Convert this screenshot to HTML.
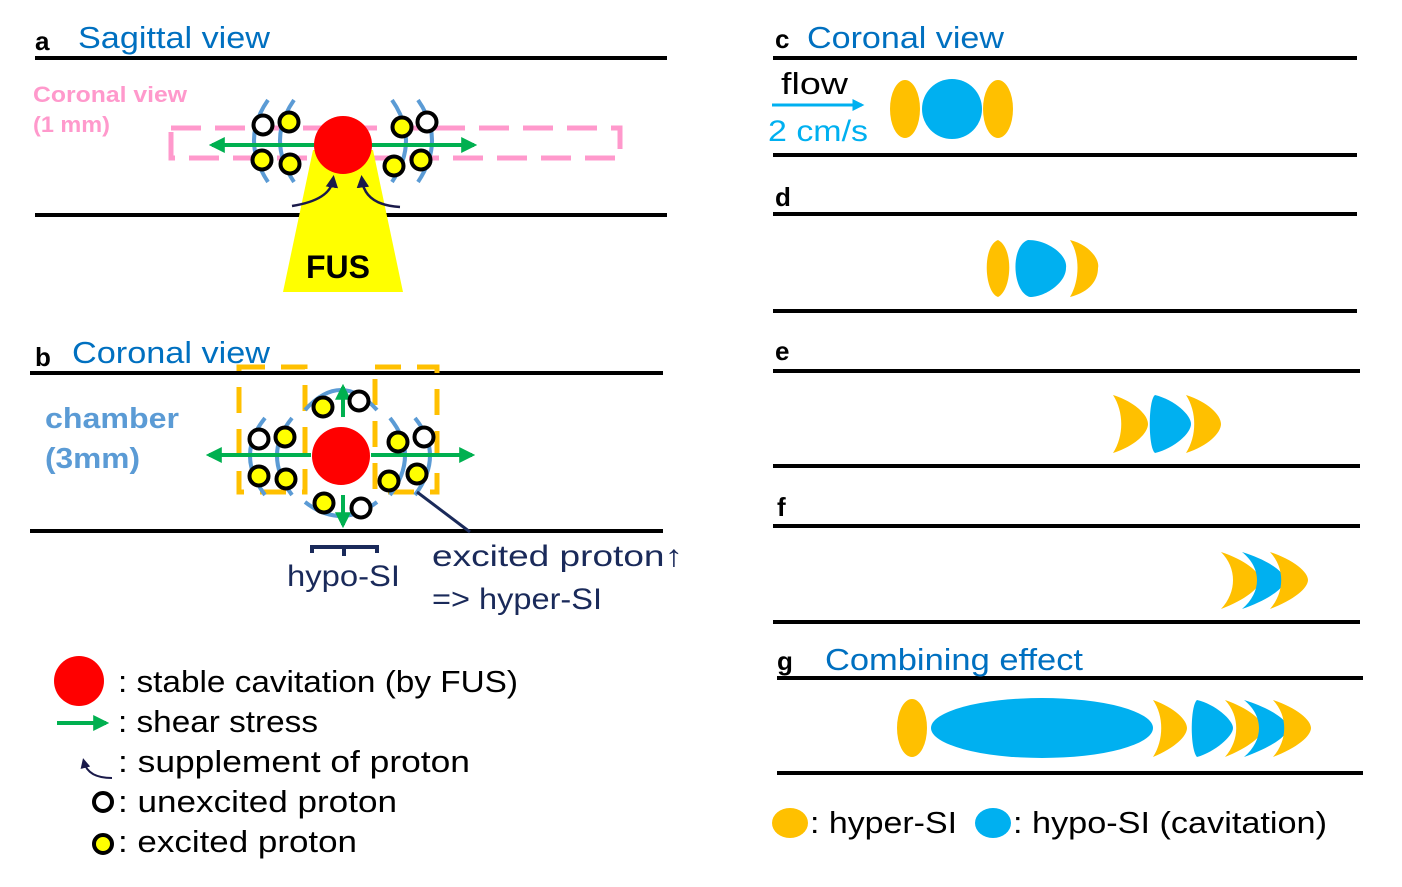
<!DOCTYPE html>
<html><head><meta charset="utf-8"><style>
html,body{margin:0;padding:0;background:#fff;}
svg{display:block;font-family:"Liberation Sans",sans-serif;}
</style></head><body>
<svg width="1402" height="887" viewBox="0 0 1402 887" xmlns="http://www.w3.org/2000/svg">
<defs>
<marker id="ga" viewBox="0 0 10 10" refX="8" refY="5" markerWidth="4" markerHeight="4" orient="auto"><path d="M0,0 L10,5 L0,10 z" fill="#00b050"/></marker>
<marker id="ba" viewBox="0 0 10 10" refX="8" refY="5" markerWidth="4" markerHeight="4" orient="auto"><path d="M0,0 L10,5 L0,10 z" fill="#00b0f0"/></marker>
<marker id="na" viewBox="0 0 10 10" refX="6" refY="5" markerWidth="5" markerHeight="5" orient="auto"><path d="M0,0 L10,5 L0,10 z" fill="#1a1a4a"/></marker>
</defs>
<g stroke="#000" stroke-width="4">
<line x1="35" y1="58" x2="667" y2="58"/><line x1="35" y1="215" x2="667" y2="215"/>
<line x1="30" y1="373" x2="663" y2="373"/><line x1="30" y1="531" x2="663" y2="531"/>
<line x1="773" y1="58" x2="1357" y2="58"/><line x1="773" y1="155" x2="1357" y2="155"/>
<line x1="773" y1="214" x2="1357" y2="214"/><line x1="773" y1="311" x2="1357" y2="311"/>
<line x1="773" y1="371" x2="1360" y2="371"/><line x1="773" y1="466" x2="1360" y2="466"/>
<line x1="773" y1="526" x2="1360" y2="526"/><line x1="773" y1="622" x2="1360" y2="622"/>
<line x1="777" y1="678" x2="1363" y2="678"/><line x1="777" y1="773" x2="1363" y2="773"/>
</g>
<g font-size="28">
<text x="35" y="50" font-weight="bold" font-size="26">a</text><text x="78" y="48" fill="#0070c0" font-size="31" textLength="192" lengthAdjust="spacingAndGlyphs">Sagittal view</text>
<text x="35" y="366" font-weight="bold" font-size="26">b</text><text x="72" y="363" fill="#0070c0" font-size="31" textLength="198" lengthAdjust="spacingAndGlyphs">Coronal view</text>
<text x="775" y="48" font-weight="bold" font-size="26">c</text><text x="807" y="48" fill="#0070c0" font-size="31" textLength="197" lengthAdjust="spacingAndGlyphs">Coronal view</text>
<text x="775" y="206" font-weight="bold" font-size="26">d</text>
<text x="775" y="360" font-weight="bold" font-size="26">e</text>
<text x="777" y="516" font-weight="bold" font-size="26">f</text>
<text x="777" y="670" font-weight="bold" font-size="26">g</text><text x="825" y="670" fill="#0070c0" font-size="31" textLength="258" lengthAdjust="spacingAndGlyphs">Combining effect</text>
</g>
<!-- panel a -->
<text x="33" y="102" fill="#ff99cc" font-weight="bold" font-size="22" textLength="154" lengthAdjust="spacingAndGlyphs">Coronal view</text>
<text x="33" y="132" fill="#ff99cc" font-weight="bold" font-size="22" textLength="77" lengthAdjust="spacingAndGlyphs">(1 mm)</text>
<rect x="171" y="128" width="449" height="30" fill="none" stroke="#ff99cc" stroke-width="5" stroke-dasharray="30,14"/>
<polygon points="313,150 373,150 403,292 283,292" fill="#ffff00"/>
<text x="306" y="278" font-weight="bold" font-size="32">FUS</text>
<g fill="none" stroke="#5b9bd5" stroke-width="4">
<path d="M268,100 Q240,140 268,182"/><path d="M294,100 Q266,140 294,182"/>
<path d="M392,100 Q420,140 392,182"/><path d="M418,100 Q446,140 418,182"/>
</g>
<line x1="315" y1="145" x2="212" y2="145" stroke="#00b050" stroke-width="4" marker-end="url(#ga)"/>
<line x1="371" y1="145" x2="474" y2="145" stroke="#00b050" stroke-width="4" marker-end="url(#ga)"/>
<circle cx="343" cy="145" r="29" fill="#ff0000"/>
<g stroke="#000" stroke-width="4">
<circle cx="263" cy="125" r="9.5" fill="#fff"/><circle cx="289" cy="122" r="9.5" fill="#ffff00"/>
<circle cx="262" cy="160" r="9.5" fill="#ffff00"/><circle cx="290" cy="164" r="9.5" fill="#ffff00"/>
<circle cx="402" cy="127" r="9.5" fill="#ffff00"/><circle cx="427" cy="122" r="9.5" fill="#fff"/>
<circle cx="394" cy="166" r="9.5" fill="#ffff00"/><circle cx="421" cy="160" r="9.5" fill="#ffff00"/>
</g>
<path d="M292,206 Q330,200 333,180" fill="none" stroke="#1a1a4a" stroke-width="2.5" marker-end="url(#na)"/>
<path d="M400,207 Q365,205 362,180" fill="none" stroke="#1a1a4a" stroke-width="2.5" marker-end="url(#na)"/>
<!-- panel b -->
<text x="45" y="428" fill="#5b9bd5" font-weight="bold" font-size="29" textLength="134" lengthAdjust="spacingAndGlyphs">chamber</text>
<text x="45" y="468" fill="#5b9bd5" font-weight="bold" font-size="29" textLength="95" lengthAdjust="spacingAndGlyphs">(3mm)</text>
<g fill="none" stroke="#ffc000" stroke-width="5" stroke-dasharray="26,16">
<rect x="239" y="367" width="66" height="125"/><rect x="375" y="367" width="62" height="125"/>
</g>
<g fill="none" stroke="#5b9bd5" stroke-width="4">
<path d="M265,418 Q235,455 265,495"/><path d="M292,418 Q262,455 292,495"/>
<path d="M390,418 Q420,455 390,495"/><path d="M415,418 Q445,455 415,495"/>
<path d="M305,410 Q341,370 377,410"/><path d="M305,502 Q341,530 377,502"/>
</g>
<line x1="311" y1="455" x2="209" y2="455" stroke="#00b050" stroke-width="4" marker-end="url(#ga)"/>
<line x1="371" y1="455" x2="472" y2="455" stroke="#00b050" stroke-width="4" marker-end="url(#ga)"/>
<line x1="343" y1="417" x2="343" y2="387" stroke="#00b050" stroke-width="4" marker-end="url(#ga)"/>
<line x1="343" y1="495" x2="343" y2="525" stroke="#00b050" stroke-width="4" marker-end="url(#ga)"/>
<circle cx="341" cy="456" r="29" fill="#ff0000"/>
<line x1="417" y1="492" x2="470" y2="532" stroke="#1a2a5a" stroke-width="3"/>
<g stroke="#000" stroke-width="4">
<circle cx="323" cy="407" r="9.5" fill="#ffff00"/><circle cx="359" cy="401" r="9.5" fill="#fff"/>
<circle cx="324" cy="503" r="9.5" fill="#ffff00"/><circle cx="361" cy="508" r="9.5" fill="#fff"/>
<circle cx="259" cy="439" r="9.5" fill="#fff"/><circle cx="285" cy="437" r="9.5" fill="#ffff00"/>
<circle cx="259" cy="476" r="9.5" fill="#ffff00"/><circle cx="286" cy="479" r="9.5" fill="#ffff00"/>
<circle cx="398" cy="442" r="9.5" fill="#ffff00"/><circle cx="424" cy="437" r="9.5" fill="#fff"/>
<circle cx="389" cy="481" r="9.5" fill="#ffff00"/><circle cx="417" cy="474" r="9.5" fill="#ffff00"/>
</g>
<path d="M312,553 L312,547 L377,547 L377,553 M344,547 L344,556" fill="none" stroke="#1a2a5a" stroke-width="4"/>
<g fill="#1a2a5a" font-size="30">
<text x="287" y="586" textLength="113" lengthAdjust="spacingAndGlyphs">hypo-SI</text>
<text x="432" y="566" textLength="251" lengthAdjust="spacingAndGlyphs">excited proton↑</text>
<text x="432" y="609" textLength="170" lengthAdjust="spacingAndGlyphs">=&gt; hyper-SI</text>
</g>
<!-- legend left -->
<circle cx="79" cy="681" r="25" fill="#ff0000"/>
<line x1="57" y1="723" x2="106" y2="723" stroke="#00b050" stroke-width="4" marker-end="url(#ga)"/>
<path d="M112,778 Q88,778 84,762" fill="none" stroke="#1a1a4a" stroke-width="2" marker-end="url(#na)"/>
<circle cx="103" cy="802" r="9" fill="#fff" stroke="#000" stroke-width="4"/>
<circle cx="103" cy="844" r="9" fill="#ffff00" stroke="#000" stroke-width="4"/>
<g font-size="31">
<text x="118" y="692" textLength="400" lengthAdjust="spacingAndGlyphs">: stable cavitation (by FUS)</text>
<text x="118" y="732" textLength="200" lengthAdjust="spacingAndGlyphs">: shear stress</text>
<text x="118" y="772" textLength="352" lengthAdjust="spacingAndGlyphs">: supplement of proton</text>
<text x="118" y="812" textLength="279" lengthAdjust="spacingAndGlyphs">: unexcited proton</text>
<text x="118" y="852" textLength="239" lengthAdjust="spacingAndGlyphs">: excited proton</text>
</g>
<!-- panel c -->
<text x="781" y="94" font-size="31" textLength="67" lengthAdjust="spacingAndGlyphs">flow</text>
<line x1="772" y1="105" x2="862" y2="105" stroke="#00b0f0" stroke-width="3" marker-end="url(#ba)"/>
<text x="768" y="141" fill="#00b0f0" font-size="30" textLength="100" lengthAdjust="spacingAndGlyphs">2 cm/s</text>
<ellipse cx="905" cy="109" rx="15" ry="29" fill="#ffc000"/>
<circle cx="952" cy="109" r="30" fill="#00b0f0"/>
<ellipse cx="998" cy="109" rx="15" ry="29" fill="#ffc000"/>
<!-- panel d -->
<path d="M998,240 C1014,248 1012,290 998,297 C984,292 982,246 998,240 Z" fill="#ffc000"/>
<path d="M1028,240 C1048,240 1068,255 1066,268 C1066,283 1045,297 1030,297 C1012,292 1010,246 1028,240 Z" fill="#00b0f0"/>
<path d="M1070,240 C1090,245 1100,260 1098,268 C1098,280 1090,292 1070,297 C1080,280 1080,255 1070,240 Z" fill="#ffc000"/>
<!-- panel e -->
<path d="M1113,395 C1135,402 1148,415 1148,424 C1148,433 1135,446 1113,453 C1124,436 1124,412 1113,395 Z" fill="#ffc000"/>
<path d="M1155,395 C1175,400 1191,415 1191,424 C1191,433 1175,448 1155,453 C1148,448 1148,400 1155,395 Z" fill="#00b0f0"/>
<path d="M1186,395 C1208,402 1221,415 1221,424 C1221,433 1208,446 1186,453 C1197,436 1197,412 1186,395 Z" fill="#ffc000"/>
<!-- panel f -->
<path d="M1221,552 C1245,560 1260,572 1260,580 C1260,588 1245,600 1221,609 C1237,592 1237,568 1221,552 Z" fill="#ffc000"/>
<path d="M1242,552 C1268,560 1285,572 1285,580 C1285,588 1268,600 1242,609 C1262,592 1262,568 1242,552 Z" fill="#00b0f0"/>
<path d="M1270,552 C1294,560 1308,572 1308,580 C1308,588 1294,600 1270,609 C1285,592 1285,568 1270,552 Z" fill="#ffc000"/>
<!-- panel g -->
<ellipse cx="912" cy="728" rx="15" ry="29" fill="#ffc000"/>
<ellipse cx="1042" cy="728" rx="111" ry="30" fill="#00b0f0"/>
<path d="M1153,700 C1175,708 1187,720 1187,728 C1187,736 1175,748 1153,757 C1164,740 1164,716 1153,700 Z" fill="#ffc000"/>
<path d="M1197,700 C1215,704 1233,720 1233,728 C1233,736 1215,752 1197,757 C1190,750 1190,706 1197,700 Z" fill="#00b0f0"/>
<path d="M1225,700 C1248,708 1263,720 1263,728 C1263,736 1248,748 1225,757 C1240,740 1240,716 1225,700 Z" fill="#ffc000"/>
<path d="M1244,700 C1270,708 1288,720 1288,728 C1288,736 1270,748 1244,757 C1264,740 1264,716 1244,700 Z" fill="#00b0f0"/>
<path d="M1273,700 C1297,708 1311,720 1311,728 C1311,736 1297,748 1273,757 C1288,740 1288,716 1273,700 Z" fill="#ffc000"/>
<!-- legend right -->
<ellipse cx="790" cy="823" rx="18" ry="15" fill="#ffc000"/>
<ellipse cx="993" cy="823" rx="18" ry="15" fill="#00b0f0"/>
<g font-size="31">
<text x="810" y="833" textLength="147" lengthAdjust="spacingAndGlyphs">: hyper-SI</text>
<text x="1013" y="833" textLength="314" lengthAdjust="spacingAndGlyphs">: hypo-SI (cavitation)</text>
</g>
</svg>
</body></html>
